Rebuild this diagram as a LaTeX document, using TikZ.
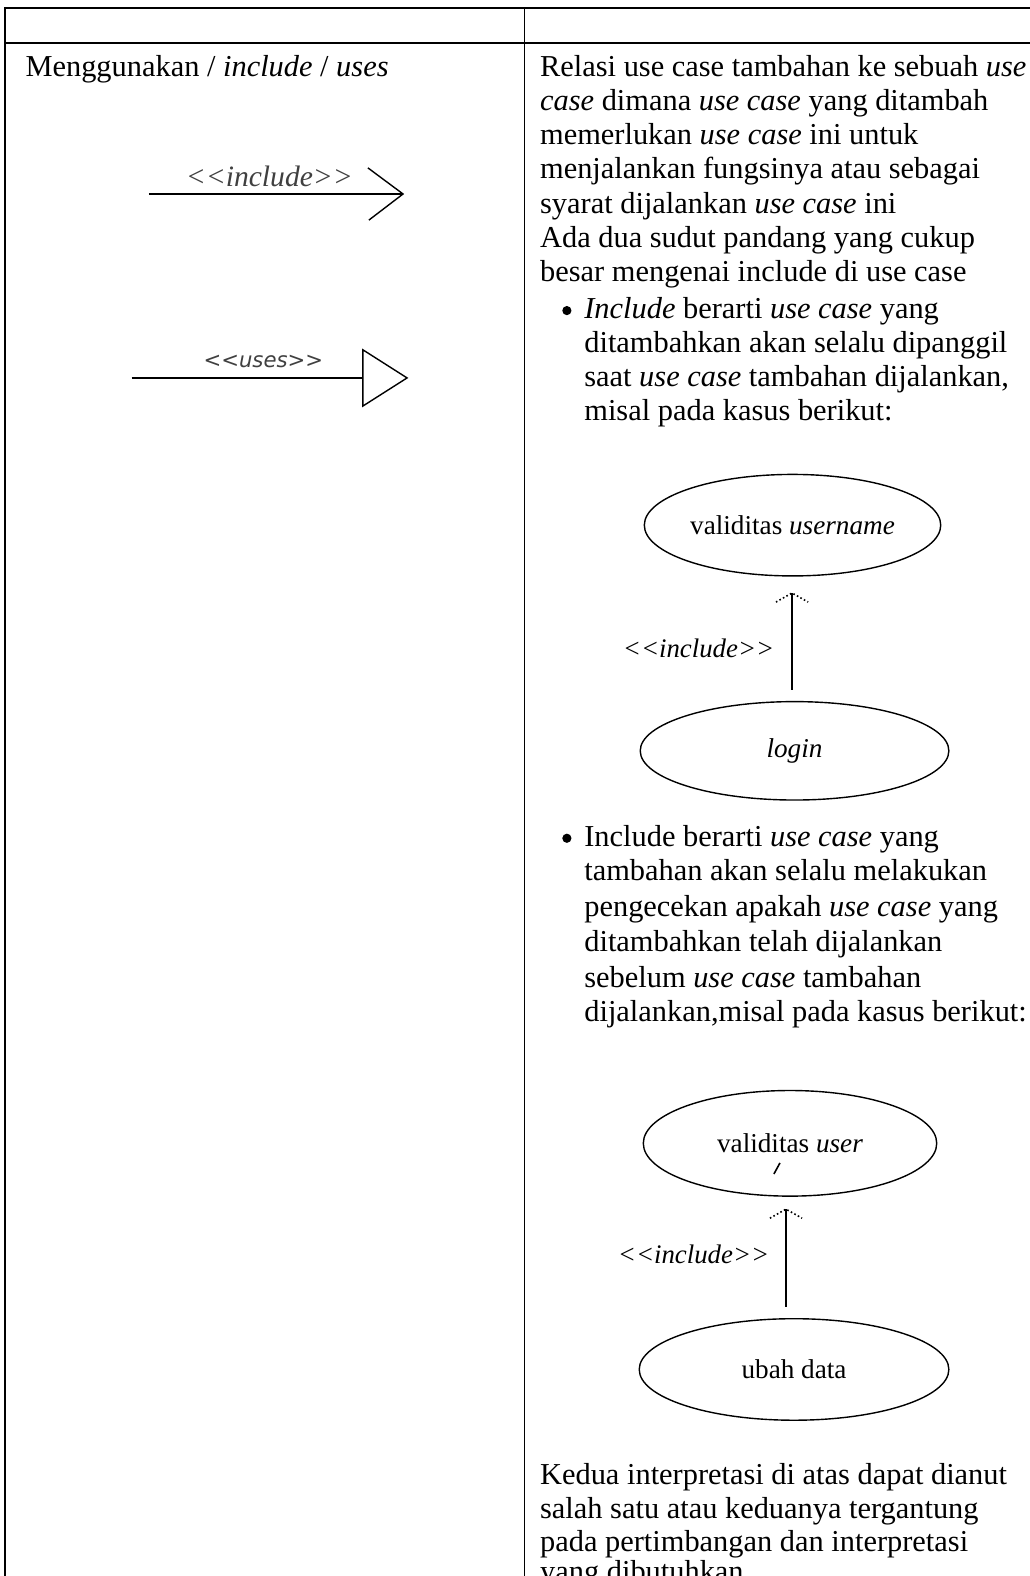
\documentclass[tikz,border=0pt]{standalone}
\usepackage{fontspec}
\setmainfont{Liberation Serif}
\newfontfamily\djsans{DejaVu Sans}
\usetikzlibrary{shapes.geometric}
\newcommand\llt{<\kern0pt<}
\newcommand\ggt{>\kern0pt>}
\begin{document}
\begin{tikzpicture}[x=0.5025pt,y=-0.5025pt,
  txt/.style={anchor=base west,inner sep=0pt,font=\fontsize{15.2}{17}\selectfont},
  bul/.style={circle,fill=black,inner sep=0pt,minimum size=4.6pt},
  uc/.style={draw,ellipse,line width=0.7pt,inner sep=0pt,font=\fontsize{13.6}{15}\selectfont},
  lbl/.style={inner sep=0pt,font=\fontsize{13.4}{15}\selectfont\itshape},
  rulethick/.style={line width=1pt},
  rulethin/.style={line width=0.6pt},
  conn/.style={line width=0.7pt},
  dothead/.style={line width=0.8pt,dash pattern=on 0.8pt off 1.2pt}]
\useasboundingbox (0,0) rectangle (1024,1568);
\fill[white] (0,0) rectangle (1024,1568);
% table
\draw[rulethick] (5,1580) -- (5,8) -- (1030,8);
\draw[rulethick] (5,43) -- (1030,43);
\draw[rulethin] (522,8) -- (522,1580);
% left column
\node[txt] (t0) at (25,76) {Menggunakan / \textit{include} / \textit{uses}};
\coordinate (p1s) at (148,193);
\coordinate (p1e) at (401,193);
\draw[conn] (p1s) -- (p1e);
\draw[conn] (366,167) -- (p1e) -- (367,219);
\node[inner sep=0pt,font=\fontsize{14.8}{16}\selectfont\itshape,text=black!75] (l1) at (268,176) {\llt include\ggt};
\coordinate (p2s) at (131,376);
\coordinate (p2e) at (361,376);
\draw[conn] (p2s) -- (p2e);
\draw[conn] (361,348) -- (405,376) -- (361,404) -- cycle;
\node[inner sep=0pt,font=\djsans\fontsize{10.6}{12}\selectfont\itshape,text=black!75] (l2) at (262,360) {\llt uses\ggt};
% right column
\node[txt] (r1) at (537,76) {Relasi use case tambahan ke sebuah \textit{use}};
\node[txt] (r2) at (537,110) {\textit{case} dimana \textit{use case} yang ditambah};
\node[txt] (r3) at (537,144) {memerlukan \textit{use case} ini untuk};
\node[txt] (r4) at (537,178) {menjalankan fungsinya atau sebagai};
\node[txt] (r5) at (537,212) {syarat dijalankan \textit{use case} ini};
\node[txt] (r6) at (537,246) {Ada dua sudut pandang yang cukup};
\node[txt] (r7) at (537,280) {besar mengenai include di use case};
\node[bul] (b1) at (564,309) {};
\node[txt] (s1) at (581,317) {\textit{Include} berarti \textit{use case} yang};
\node[txt] (s2) at (581,351) {ditambahkan akan selalu dipanggil};
\node[txt] (s3) at (581,385) {saat \textit{use case} tambahan dijalankan,};
\node[txt] (s4) at (581,418) {misal pada kasus berikut:};
% diagram 1
\node[uc,minimum width=148.2pt,minimum height=50.75pt] (vu) at (788.5,522.5) {validitas \textit{username}};
\node[uc,minimum width=154.3pt,minimum height=49.2pt] (lg) at (790.5,747) {\textit{login}};
\coordinate (a1s) at (788,686);
\coordinate (a1e) at (788,590);
\draw[conn] (a1s) -- (a1e);
\draw[dothead] (a1e) ++(-16,9) -- (a1e) -- ++(16,9);
\node[lbl] (i1) at (695,645) {\llt include\ggt};
% second bullet
\node[bul] (b2) at (564,834) {};
\node[txt] (u1) at (581,842) {Include berarti \textit{use case} yang};
\node[txt] (u2) at (581,876) {tambahan akan selalu melakukan};
\node[txt] (u3) at (581,912) {pengecekan apakah \textit{use case} yang};
\node[txt] (u4) at (581,947) {ditambahkan telah dijalankan};
\node[txt] (u5) at (581,982) {sebelum \textit{use case} tambahan};
\node[txt] (u6) at (581,1016) {dijalankan,misal pada kasus berikut:};
% diagram 2
\node[uc,minimum width=146.7pt,minimum height=52.8pt] (vus) at (786,1137.5) {validitas \textit{user}};
\draw[line width=0.8pt] (770,1168) -- (776,1157);
\node[uc,minimum width=154.8pt,minimum height=50.75pt] (ud) at (790,1362.5) {ubah data};
\coordinate (a2s) at (782,1300);
\coordinate (a2e) at (782,1203);
\draw[conn] (a2s) -- (a2e);
\draw[dothead] (a2e) ++(-16,9) -- (a2e) -- ++(16,9);
\node[lbl] (i2) at (690,1248) {\llt include\ggt};
% closing paragraph
\node[txt] (k1) at (537,1477) {Kedua interpretasi di atas dapat dianut};
\node[txt] (k2) at (537,1511) {salah satu atau keduanya tergantung};
\node[txt] (k3) at (537,1544) {pada pertimbangan dan interpretasi};
\node[txt] (k4) at (537,1573) {yang dibutuhkan.};
\end{tikzpicture}
\end{document}
